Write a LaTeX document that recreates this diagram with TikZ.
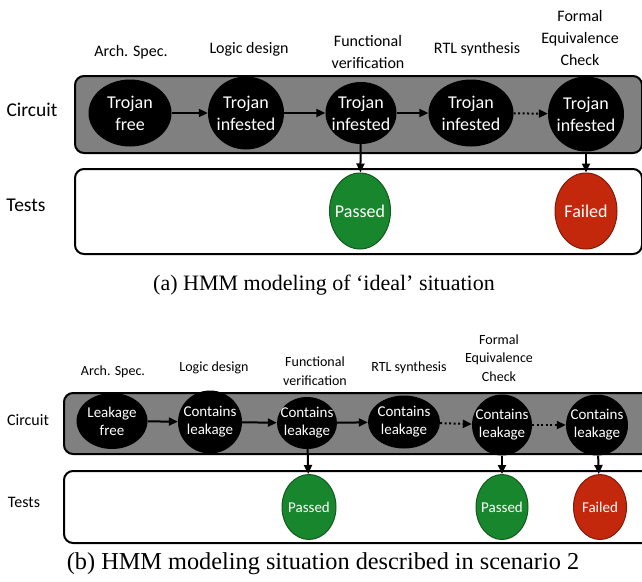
\documentclass[tikz,border=0pt]{standalone}
\usepackage{fontspec}
\setmainfont{Liberation Serif}
\newfontfamily\calfont{Carlito}
\usetikzlibrary{shapes.geometric,arrows.meta}
\definecolor{boxgray}{RGB}{128,128,128}
\definecolor{passgreen}{RGB}{24,134,44}
\definecolor{passedge}{RGB}{18,90,30}
\definecolor{failred}{RGB}{196,40,12}
\definecolor{failedge}{RGB}{130,26,8}
\begin{document}
\begin{tikzpicture}[x=1pt,y=-1pt,
  panelbox/.style={draw=black,line width=2pt,rounded corners=9pt},
  fonta/.style={font=\calfont\fontsize{18}{22}\selectfont},
  fontb/.style={font=\calfont\fontsize{15}{18}\selectfont},
  blackstate/.style={ellipse,fill=black,inner sep=0pt},
  passnode/.style={ellipse,fill=passgreen,draw=passedge,line width=1pt,inner sep=0pt},
  failnode/.style={ellipse,fill=failred,draw=failedge,line width=1pt,inner sep=0pt},
  txta/.style={label={[fonta,text=white,align=center,inner sep=0pt]center:#1}},
  txtb/.style={label={[fontb,text=white,align=center,inner sep=0pt]center:#1}},
  stagea/.style={align=center,font=\calfont\fontsize{16}{22}\selectfont,inner sep=0pt},
  stageb/.style={align=center,font=\calfont\fontsize{14}{18.5}\selectfont,inner sep=0pt},
  rowa/.style={font=\calfont\fontsize{19.5}{22}\selectfont,inner sep=0pt},
  rowb/.style={font=\calfont\fontsize{16}{20}\selectfont,inner sep=0pt},
  arr/.style={-{Triangle[length=9pt,width=8pt]},line width=2pt},
  dotarr/.style={-{Triangle[length=9pt,width=8pt]},line width=2pt,dash pattern=on 2pt off 2.5pt},
  caption/.style={inner sep=0pt}
]
\useasboundingbox (0,0) rectangle (642,581);
\clip (0,0) rectangle (642,581);

% ---------------- panel (a) ----------------
\node[panelbox,fill=boxgray,minimum width=567pt,minimum height=77pt,anchor=north west] (ca) at (74,75) {};
\node[panelbox,fill=white,minimum width=567pt,minimum height=85pt,anchor=north west] (ta) at (74,168) {};

\node[rowa] (circa) at (32,110) {Circuit};
\node[rowa] (testa) at (26,205) {Tests};

\node[stagea] (la1) at (131,52) {Arch. Spec.};
\node[stagea] (la2) at (249,49) {Logic design};
\node[stagea] (la3) at (368,52) {Functional\\verification};
\node[stagea] (la4) at (477,49) {RTL synthesis};
\node[stagea] (la5) at (580,38) {Formal\\Equivalence\\Check};

\node[blackstate,minimum width=83pt,minimum height=67pt,txta={Trojan\\free}] (a1) at (130,113) {};
\node[blackstate,minimum width=76pt,minimum height=73pt,txta={Trojan\\infested}] (a2) at (246,113) {};
\node[blackstate,minimum width=71pt,minimum height=62pt,txta={Trojan\\infested}] (a3) at (361,113) {};
\node[blackstate,minimum width=85pt,minimum height=67pt,txta={Trojan\\infested}] (a4) at (471,113) {};
\node[blackstate,minimum width=76pt,minimum height=75pt,txta={Trojan\\infested}] (a5) at (586,114) {};

\node[passnode,minimum width=61pt,minimum height=76pt,txta={Passed}] (pa) at (360,211) {};
\node[failnode,minimum width=62pt,minimum height=76pt,txta={Failed}] (fa) at (586,211) {};

\draw[arr] (a1) -- (a2);
\draw[arr] (a2) -- (a3);
\draw[arr] (a3) -- (a4);
\draw[dotarr] (a4) -- (a5);
\draw[arr] (a3) -- (pa);
\draw[arr] (a5) -- (fa);

\node[caption,font=\fontsize{22}{24}\selectfont] (capa) at (324,285) {(a) HMM modeling of `ideal' situation};

% ---------------- panel (b) ----------------
\node[panelbox,fill=boxgray,minimum width=600pt,minimum height=61pt,anchor=north west] (cb) at (63,392) {};
\node[panelbox,fill=white,minimum width=600pt,minimum height=72pt,anchor=north west] (tb) at (63,470) {};

\node[rowb] (circb) at (28,420) {Circuit};
\node[rowb] (testb) at (24,502) {Tests};

\node[stageb] (lb1) at (113,372) {Arch. Spec.};
\node[stageb] (lb2) at (214,368) {Logic design};
\node[stageb] (lb3) at (315,371) {Functional\\verification};
\node[stageb] (lb4) at (409,368) {RTL synthesis};
\node[stageb] (lb5) at (499,358) {Formal\\Equivalence\\Check};

\node[blackstate,minimum width=71pt,minimum height=56pt,txtb={Leakage\\free}] (b1) at (112,421) {};
\node[blackstate,minimum width=64pt,minimum height=63pt,txtb={Contains\\leakage}] (b2) at (210,422) {};
\node[blackstate,minimum width=60pt,minimum height=52pt,txtb={Contains\\leakage}] (b3) at (307,423) {};
\node[blackstate,minimum width=72pt,minimum height=53pt,txtb={Contains\\leakage}] (b4) at (404,422) {};
\node[blackstate,minimum width=60pt,minimum height=61pt,txtb={Contains\\leakage}] (b5) at (502,425) {};
\node[blackstate,minimum width=62pt,minimum height=61pt,txtb={Contains\\leakage}] (b6) at (597,425) {};

\node[passnode,minimum width=54pt,minimum height=65pt,txtb={Passed}] (pb1) at (309,507) {};
\node[passnode,minimum width=52pt,minimum height=65pt,txtb={Passed}] (pb2) at (502,507) {};
\node[failnode,minimum width=53pt,minimum height=65pt,txtb={Failed}] (fb) at (600,507) {};

\draw[arr] (b1) -- (b2);
\draw[arr] (b2) -- (b3);
\draw[arr] (b3) -- (b4);
\draw[dotarr] (b4) -- (b5);
\draw[dotarr] (b5) -- (b6);
\draw[arr] (b3) -- (pb1);
\draw[arr] (b5) -- (pb2);
\draw[arr] (b6) -- (fb);

\node[caption,font=\fontsize{24.3}{26}\selectfont] (capb) at (323,564) {(b) HMM modeling situation described in scenario 2};
\end{tikzpicture}
\end{document}
